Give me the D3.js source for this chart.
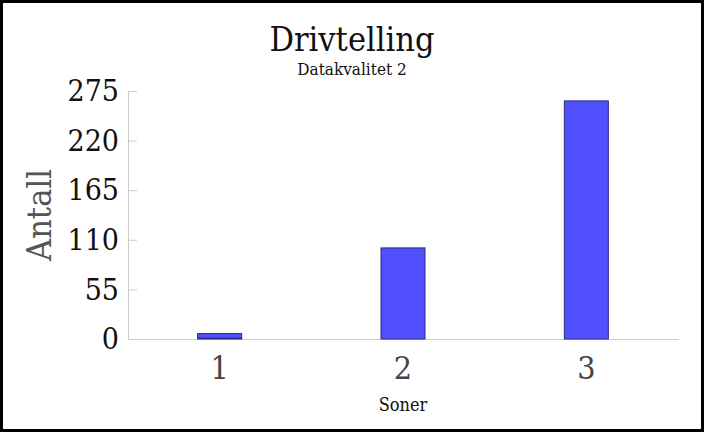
<!DOCTYPE html>
<html>
<head>
<meta charset="utf-8">
<script src="https://cdn.jsdelivr.net/npm/d3@7"></script>
<style>
  body { margin: 0; background: #fff; }
  svg { display: block; font-family: "DejaVu Serif Condensed", "DejaVu Serif", serif; font-stretch: condensed; }
</style>
</head>
<body>
<div id="chart"></div>
<script>
// data
const soner = ["1", "2", "3"];
const antallRod = [1, 0, 0];
const antallBla = [5, 101, 264];
const yTicks = [0, 55, 110, 165, 220, 275];

const W = 704, H = 432;
const margin = { top: 91, right: 26, bottom: 93, left: 128 };
const width = W - margin.left - margin.right;
const height = H - margin.top - margin.bottom;
const fam = "'DejaVu Serif Condensed', 'DejaVu Serif', serif";

const svg = d3.select("#chart").append("svg")
  .attr("width", W)
  .attr("height", H);

svg.append("rect")
  .attr("x", 1.5).attr("y", 1.5)
  .attr("width", W - 3).attr("height", H - 3)
  .attr("fill", "#fff")
  .attr("stroke", "#000")
  .attr("stroke-width", 3);

svg.append("text")
  .attr("x", W / 2).attr("y", 51)
  .attr("text-anchor", "middle")
  .style("font-size", "34px")
  .style("fill", "#111")
  .text("Drivtelling");

svg.append("text")
  .attr("x", W / 2).attr("y", 75)
  .attr("text-anchor", "middle")
  .style("font-size", "17px")
  .style("fill", "#111")
  .text("Datakvalitet 2");

const g = svg.append("g")
  .attr("transform", `translate(${margin.left},${margin.top})`);

const x = d3.scaleBand().domain(soner).range([0, width]);
const y = d3.scaleLinear().domain([0, 275]).range([height, 0]);
const barW = x.bandwidth() * 0.24;

// y axis
const yAxis = g.append("g")
  .call(d3.axisRight(y).tickValues(yTicks).tickSize(9).tickFormat(d3.format("d")));
yAxis.select(".domain").attr("stroke", "#ccc");
yAxis.selectAll(".tick line").attr("stroke", "#ccc");
yAxis.selectAll(".tick text")
  .attr("x", -9)
  .attr("text-anchor", "end")
  .style("font-family", fam)
  .style("font-size", "30px")
  .style("fill", "#111");

// x axis
const xAxis = g.append("g")
  .attr("transform", `translate(0,${height})`)
  .call(d3.axisBottom(x).tickSize(0).tickPadding(12));
xAxis.select(".domain").attr("stroke", "#ccc");
xAxis.selectAll(".tick text")
  .attr("dy", "0.88em")
  .style("font-family", fam)
  .style("font-size", "32px")
  .style("fill", "#444");

// stacked bars
const rows = soner.map((s, i) => ({ sone: s, rod: antallRod[i], bla: antallBla[i] }));
const stack = d3.stack().keys(["rod", "bla"])(rows);
const colors = { rod: "#e03030", bla: "#5050ff" };

g.selectAll(".serie")
  .data(stack)
  .join("g")
  .attr("class", "serie")
  .attr("fill", d => colors[d.key])
  .selectAll("rect")
  .data(d => d.filter(v => v[1] > v[0]))
  .join("rect")
  .attr("x", d => x(d.data.sone) + x.bandwidth() / 2 - barW / 2)
  .attr("y", d => y(d[1]))
  .attr("width", barW)
  .attr("height", d => y(d[0]) - y(d[1]))
  .attr("stroke", "#2a2a80")
  .attr("stroke-width", 1);

// axis titles
svg.append("text")
  .attr("transform", `translate(51,${margin.top + height / 2}) rotate(-90)`)
  .attr("text-anchor", "middle")
  .style("font-size", "34px")
  .style("fill", "#555")
  .text("Antall");

svg.append("text")
  .attr("x", margin.left + width / 2).attr("y", 411)
  .attr("text-anchor", "middle")
  .style("font-size", "18px")
  .style("fill", "#111")
  .text("Soner");
</script>
</body>
</html>
